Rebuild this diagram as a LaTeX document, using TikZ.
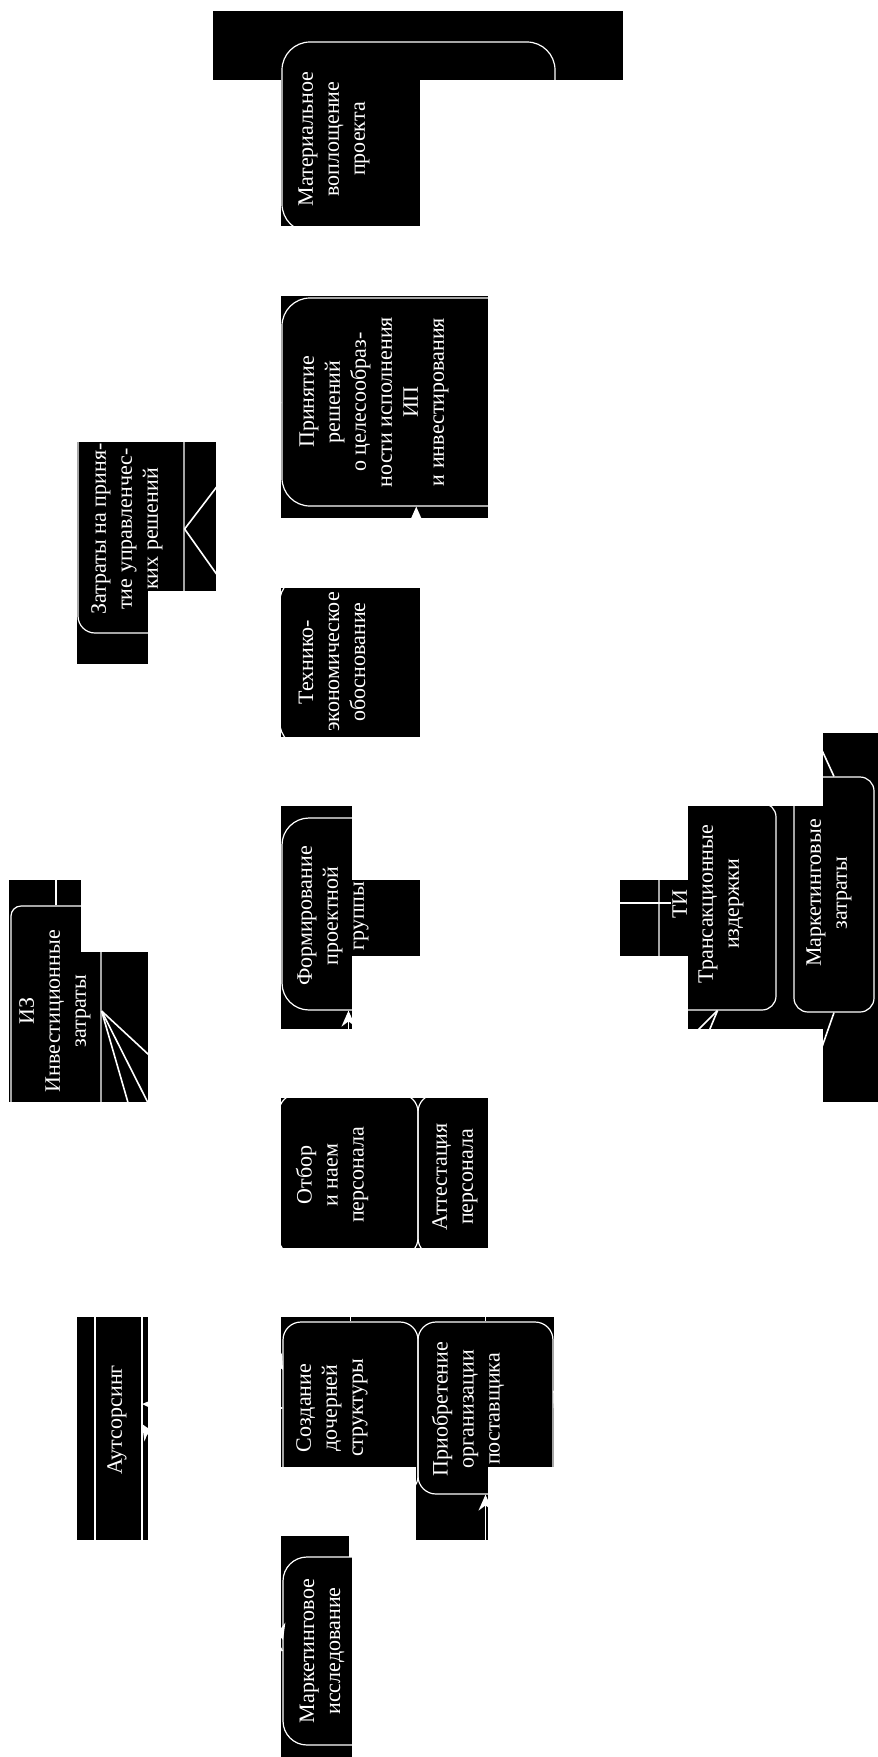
\documentclass[tikz,border=0pt]{standalone}
\usepackage{fontspec}
\setmainfont{Liberation Serif}
\usetikzlibrary{arrows.meta}
\tikzset{
  tile/.style={fill=black},
  outl/.style={draw=white, line width=0.6pt, rounded corners=#1, inner sep=0pt},
  txt/.style={text=white, rotate=90, align=center, font=\fontsize{11}{13}\selectfont, inner sep=0pt},
  conn/.style={draw=white, line width=0.8pt},
  arr/.style={conn, -{Stealth[length=8pt,width=7pt]}},
}
\begin{document}
\begin{tikzpicture}[x=0.5pt,y=-0.5pt]
\useasboundingbox (0,0) rectangle (878,1757);
% black tiles
\fill[tile] (213,11) rectangle (623,80);
\fill[tile] (281,80) rectangle (420,226);
\fill[tile] (281,296) rectangle (488,518);
\fill[tile] (77,442) rectangle (148,664);
\fill[tile] (148,442) rectangle (216,591);
\fill[tile] (281,588) rectangle (420,737);
\fill[tile] (281,806) rectangle (352,1029);
\fill[tile] (352,880) rectangle (420,956);
\fill[tile] (9,880) rectangle (81,1102);
\fill[tile] (81,952) rectangle (148,1102);
\fill[tile] (281,1098) rectangle (488,1248);
\fill[tile] (620,880) rectangle (688,956);
\fill[tile] (688,806) rectangle (823,1029);
\fill[tile] (823,733) rectangle (878,1102);
\fill[tile] (77,1317) rectangle (148,1540);
\fill[tile] (281,1317) rectangle (554,1467);
\fill[tile] (416,1467) rectangle (488,1540);
\fill[tile] (281,1536) rectangle (349,1557);
\fill[tile] (281,1557) rectangle (352,1757);
% outlines
\node[outl=14pt, minimum width=136.5pt, minimum height=95pt] (mat) at (418.5,137) {};
\node[outl=14pt, minimum width=136.5pt, minimum height=104pt] (prin) at (418.5,402) {};
\node[outl=8.5pt, minimum width=53pt, minimum height=104pt] (zatr) at (131,529) {};
\node[outl=14pt, minimum width=136.75pt, minimum height=87pt] (tech) at (416.25,662) {};
\node[outl=13.5pt, minimum width=71pt, minimum height=96pt] (form) at (353,914) {};
\node[outl=5pt, minimum width=45pt, minimum height=105pt] (izz) at (56,1011) {};
\node[outl=9pt, minimum width=69.5pt, minimum height=81pt] (otbor) at (348.5,1175) {};
\node[outl=9pt, minimum width=67pt, minimum height=81pt] (att) at (485,1175) {};
\node[outl=7pt, minimum width=58.5pt, minimum height=103.5pt] (ti) at (717.5,906.5) {};
\node[outl=7pt, minimum width=40pt, minimum height=117.5pt] (mz) at (834,894.5) {};
\node[outl=0pt, minimum width=23.5pt, minimum height=130pt] (aut) at (118.5,1420) {};
\node[outl=9pt, minimum width=67.5pt, minimum height=86pt] (sozd) at (350.5,1408) {};
\node[outl=9pt, minimum width=67.5pt, minimum height=86pt] (prio) at (485.5,1408) {};
\node[outl=12pt, minimum width=135pt, minimum height=94pt] (mark) at (418,1651) {};
% texts
\node[txt] (matt) at (334,139) {Материальное\\воплощение\\проекта};
\node[txt] (print) at (374,402) {Принятие\\решений\\о целесообраз-\\ности исполнения\\ИП\\и инвестирования};
\node[txt] (zatrt) at (127,529) {Затраты на приня-\\тие управленчес-\\ких решений};
\node[txt] (techt) at (332,662) {Технико-\\экономическое\\обоснование};
\node[txt] (formt) at (333,916) {Формирование\\проектной\\группы};
\node[txt] (izzt) at (55,1011) {ИЗ\\Инвестиционные\\затраты};
\node[txt] (otbort) at (332,1175) {Отбор\\и наем\\персонала};
\node[txt] (attt) at (455,1177) {Аттестация\\персонала};
\node[txt] (tit) at (708,904) {ТИ\\Трансакционные\\издержки};
\node[txt] (mzt) at (829,893) {Маркетинговые\\затраты};
\node[txt] (autt) at (117,1420) {Аутсорсинг};
\node[txt] (sozdt) at (332,1408) {Создание\\дочерней\\структуры};
\node[txt] (priot) at (468,1409) {Приобретение\\организации\\поставщика};
\node[txt] (markt) at (322,1651) {Маркетинговое\\исследование};
% free ends
\coordinate (s1) at (283,1370);
\coordinate (m1) at (283,1640);
\coordinate (izup) at (56,860);
\coordinate (fl) at (200,914);
\coordinate (au1) at (142,1404);
\coordinate (au2) at (142,1424);
\coordinate (tiL) at (560,903);
\coordinate (tiR) at (671,903);
\coordinate (mzU) at (814,733);
\coordinate (mzD) at (816,1064);
% connectors
\draw[arr] (zatr.east) -- (prin.west);
\draw[arr] (zatr.east) -- (tech.west);
\draw[arr] (izz.east) -- (otbor.west);
\draw[arr] (izz.east) -- (s1);
\draw[arr] (izz.east) -- (m1);
\draw[conn] (izz.north) -- (izup);
\draw[arr] (fl) -- (form.west);
\draw[arr] (tech.north) -- (tech.north |- prin.south);
\draw[arr] (otbor.north) -- (otbor.north |- form.south);
\draw[arr] (sozd.north) -- (sozd.north |- otbor.south);
\draw[arr] (prio.north) -- (prio.north |- att.south);
\draw[arr] (prio.south |- mark.north) -- (prio.south);
\draw[arr] (sozd.west) -- (au1);
\draw[arr] (mark.west) -- (au2);
\draw[arr] (ti.south) -- (att.east);
\draw[arr] (ti.south) -- (prio.east);
\draw[conn] (tiL) -- (tiR);
\draw[conn] (mz.north) -- (mzU);
\draw[conn] (mz.south) -- (mzD);
\end{tikzpicture}
\end{document}
